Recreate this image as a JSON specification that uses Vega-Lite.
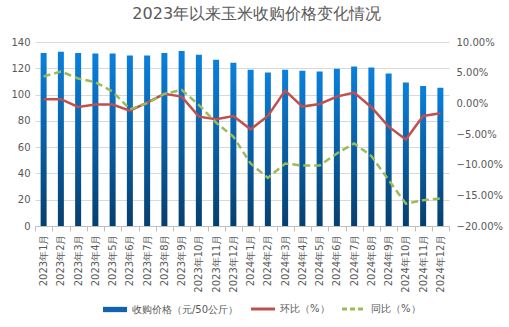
{
  "$schema": "https://vega.github.io/schema/vega-lite/v6.json",
  "width": 414,
  "height": 184,
  "autosize": {"type": "none"},
  "padding": {"left": 35, "top": 42, "right": 60, "bottom": 101},
  "background": "white",
  "title": {"text": "2023年以来玉米收购价格变化情况", "fontSize": 16, "fontWeight": "normal", "color": "#595959", "anchor": "middle", "frame": "bounds", "offset": 15},
  "data": {"values": [
    {"month": "2023年1月", "price": 131.6, "mom": 0.0067, "yoy": 0.0438},
    {"month": "2023年2月", "price": 132.6, "mom": 0.0067, "yoy": 0.0519},
    {"month": "2023年3月", "price": 131.6, "mom": -0.0059, "yoy": 0.0405},
    {"month": "2023年4月", "price": 131.3, "mom": -0.0020, "yoy": 0.0345},
    {"month": "2023年5月", "price": 131.3, "mom": -0.0020, "yoy": 0.0192},
    {"month": "2023年6月", "price": 129.8, "mom": -0.0119, "yoy": -0.0097},
    {"month": "2023年7月", "price": 129.8, "mom": 0.0012, "yoy": 0.0002},
    {"month": "2023年8月", "price": 131.6, "mom": 0.0154, "yoy": 0.0154},
    {"month": "2023年9月", "price": 133.1, "mom": 0.0110, "yoy": 0.0219},
    {"month": "2023年10月", "price": 130.3, "mom": -0.0217, "yoy": -0.0026},
    {"month": "2023年11月", "price": 126.5, "mom": -0.0260, "yoy": -0.0315},
    {"month": "2023年12月", "price": 124.2, "mom": -0.0206, "yoy": -0.0544},
    {"month": "2024年1月", "price": 118.9, "mom": -0.0424, "yoy": -0.0981},
    {"month": "2024年2月", "price": 116.8, "mom": -0.0206, "yoy": -0.1215},
    {"month": "2024年3月", "price": 118.9, "mom": 0.0208, "yoy": -0.0981},
    {"month": "2024年4月", "price": 118.1, "mom": -0.0053, "yoy": -0.1014},
    {"month": "2024年5月", "price": 117.6, "mom": -0.0010, "yoy": -0.1014},
    {"month": "2024年6月", "price": 119.6, "mom": 0.0110, "yoy": -0.0817},
    {"month": "2024年7月", "price": 121.4, "mom": 0.0176, "yoy": -0.0653},
    {"month": "2024年8月", "price": 120.6, "mom": -0.0064, "yoy": -0.0860},
    {"month": "2024年9月", "price": 116.0, "mom": -0.0380, "yoy": -0.1250},
    {"month": "2024年10月", "price": 109.2, "mom": -0.0588, "yoy": -0.1636},
    {"month": "2024年11月", "price": 106.6, "mom": -0.0206, "yoy": -0.1580},
    {"month": "2024年12月", "price": 105.1, "mom": -0.0162, "yoy": -0.1550}
  ]},
  "encoding": {
    "x": {"field": "month", "type": "nominal", "sort": null,
      "scale": {"paddingInner": 0, "paddingOuter": 0},
      "axis": {"title": null, "labelAngle": -90, "labelFontSize": 10, "labelColor": "#595959", "domainColor": "#bfbfbf", "tickColor": "#bfbfbf", "tickBand": "extent", "tickSize": 5, "labelPadding": 3, "grid": false}}
  },
  "layer": [
    {
      "mark": {"type": "bar", "size": 6, "fill": {"gradient": "linear", "x1": 0, "y1": 0, "x2": 0, "y2": 1, "stops": [{"offset": 0, "color": "#0a80dc"}, {"offset": 1, "color": "#073f6e"}]}},
      "encoding": {
        "y": {"field": "price", "type": "quantitative", "scale": {"domain": [0, 140], "nice": false},
          "axis": {"title": null, "values": [0, 20, 40, 60, 80, 100, 120, 140], "domain": false, "ticks": false, "labelFontSize": 10, "labelColor": "#595959", "gridColor": "#d9d9d9", "labelPadding": 5}}
      }
    },
    {
      "layer": [
        {
          "mark": {"type": "line", "strokeWidth": 2.5},
          "encoding": {
            "y": {"field": "mom", "type": "quantitative", "scale": {"domain": [-0.2, 0.1], "nice": false},
              "axis": {"orient": "right", "title": null, "format": ".2%", "values": [-0.2, -0.15, -0.1, -0.05, 0, 0.05, 0.1], "grid": false, "domain": false, "ticks": false, "labelFontSize": 10, "labelColor": "#595959", "labelPadding": 7}},
            "color": {"datum": "环比（%）"}
          }
        },
        {
          "mark": {"type": "line", "strokeWidth": 2.5, "strokeDash": [7, 4]},
          "encoding": {
            "y": {"field": "yoy", "type": "quantitative", "scale": {"domain": [-0.2, 0.1], "nice": false},
              "axis": {"orient": "right", "title": null, "format": ".2%", "values": [-0.2, -0.15, -0.1, -0.05, 0, 0.05, 0.1], "grid": false, "domain": false, "ticks": false, "labelFontSize": 10, "labelColor": "#595959", "labelPadding": 7}},
            "color": {"datum": "同比（%）",
              "scale": {"domain": ["收购价格（元/50公斤）", "环比（%）", "同比（%）"], "range": ["#0f63b0", "#c0504d", "#9bbb59"]},
              "legend": {"orient": "none", "legendX": 75, "legendY": 262, "direction": "horizontal", "title": null, "symbolSize": 576, "labelFontSize": 10, "labelColor": "#595959", "columnPadding": 6, "labelOffset": 12, "labelLimit": 300,
                "encode": {"symbols": {"update": {
                  "shape": {"signal": "datum.value === '收购价格（元/50公斤）' ? 'M-1,-0.22H1V0.22H-1Z' : 'stroke'"},
                  "fill": {"signal": "datum.value === '收购价格（元/50公斤）' ? '#0f63b0' : 'transparent'"},
                  "strokeWidth": {"signal": "datum.value === '收购价格（元/50公斤）' ? 0 : 3"},
                  "strokeDash": {"signal": "datum.value === '同比（%）' ? [5, 3] : []"}
                }}}}
            }
          }
        }
      ]
    }
  ],
  "resolve": {"scale": {"y": "independent"}},
  "config": {"font": "DejaVu Sans", "view": {"stroke": null}}
}
